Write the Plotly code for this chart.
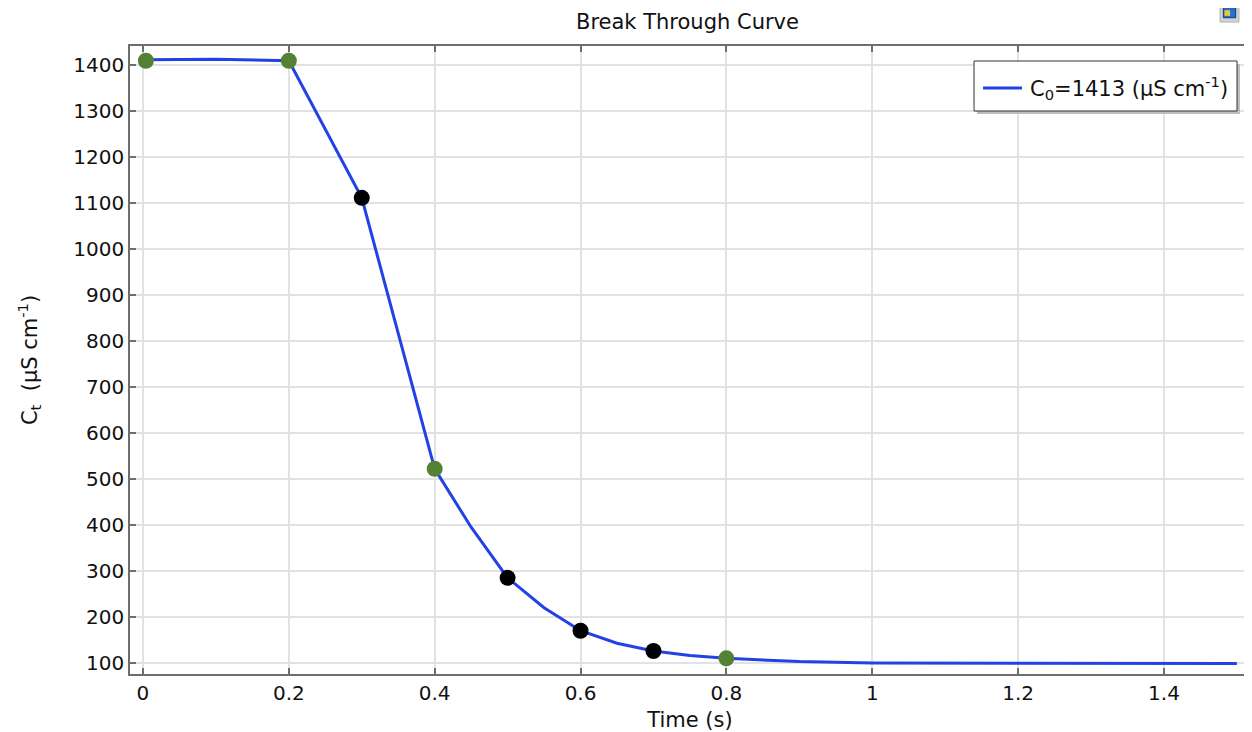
import plotly.graph_objects as go

# Curve data
line_time = [0.0, 0.1, 0.2, 0.3, 0.4, 0.45, 0.5, 0.55, 0.6, 0.65, 0.7, 0.75, 0.8, 0.9, 1.0, 1.2, 1.5]
line_conc = [1411, 1412, 1409, 1111, 522, 395, 285, 220, 170, 143, 126, 116, 110, 103, 100, 99, 99]

green_time = [0.004, 0.2, 0.4, 0.8]
green_conc = [1409, 1409, 522, 110]
black_time = [0.3, 0.5, 0.6, 0.7]
black_conc = [1111, 285, 170, 126]

x_ticks = [0, 0.2, 0.4, 0.6, 0.8, 1, 1.2, 1.4]
x_labels = ["0", "0.2", "0.4", "0.6", "0.8", "1", "1.2", "1.4"]
y_ticks = list(range(100, 1401, 100))

legend_label = "C<sub>0</sub>=1413 (µS cm<sup>-1</sup>)"
LINE_COLOR = "#2342e6"
FONT = "DejaVu Sans, Liberation Sans, sans-serif"
TXT = "#111111"

fig = go.Figure()
fig.add_trace(go.Scatter(
    x=line_time, y=line_conc, mode="lines",
    line=dict(color=LINE_COLOR, width=3),
    name=legend_label, showlegend=False,
))
fig.add_trace(go.Scatter(
    x=green_time, y=green_conc, mode="markers",
    marker=dict(color="#538234", size=16), showlegend=False,
))
fig.add_trace(go.Scatter(
    x=black_time, y=black_conc, mode="markers",
    marker=dict(color="#000000", size=16), showlegend=False,
))

axis_common = dict(
    showline=True, linecolor="#6e6e6e", linewidth=1.5, mirror="ticks",
    ticks="inside", ticklen=6, tickcolor="#6e6e6e", tickwidth=1.5,
    showgrid=True, gridcolor="#e2e2e2", gridwidth=2, zeroline=False,
    tickfont=dict(family=FONT, size=20, color=TXT), automargin=False,
)

# the page body has an 8px margin, so the figure is 16px smaller than the window
fig.update_layout(
    width=1244, height=724,
    paper_bgcolor="white", plot_bgcolor="white",
    margin=dict(l=122, r=2, t=38, b=58),
    title=dict(text="Break Through Curve", x=0.5462, xanchor="center", xref="container",
               y=0.9807, yanchor="middle", yref="container",
               font=dict(family=FONT, size=21, color=TXT)),
    xaxis=dict(range=[-0.0178, 1.518], tickvals=x_ticks, ticktext=x_labels,
               title=dict(text="Time (s)", font=dict(family=FONT, size=21, color=TXT)),
               **axis_common),
    yaxis=dict(range=[76, 1441], tickvals=y_ticks,
               title=dict(text="C<sub>t</sub>  (µS cm<sup>-1</sup>)", standoff=30,
                          font=dict(family=FONT, size=21, color=TXT)),
               **axis_common),
    showlegend=False,
    shapes=[
        # legend shadow
        dict(type="rect", xref="paper", yref="paper",
             x0=0.7563, x1=0.9911, y0=0.8917, y1=0.9713,
             fillcolor="#bdbdbd", line=dict(width=0), layer="above"),
        # legend box
        dict(type="rect", xref="paper", yref="paper",
             x0=0.7536, x1=0.9884, y0=0.8965, y1=0.9761,
             fillcolor="white", line=dict(color="#333333", width=1), layer="above"),
        # legend line sample
        dict(type="line", xref="paper", yref="paper",
             x0=0.7616, x1=0.7964, y0=0.9331, y1=0.9331,
             line=dict(color=LINE_COLOR, width=3), layer="above"),
        # corner icon
        dict(type="rect", xref="paper", yref="paper",
             x0=0.9732, x1=0.9902, y0=1.038, y1=1.068,
             fillcolor="#d0d0d0", line=dict(color="#b8b8b8", width=1), layer="above"),
        dict(type="rect", xref="paper", yref="paper",
             x0=0.9762, x1=0.9872, y0=1.045, y1=1.061,
             fillcolor="#2a6fd0", line=dict(color="#103a80", width=1), layer="above"),
        dict(type="rect", xref="paper", yref="paper",
             x0=0.9772, x1=0.9822, y0=1.048, y1=1.057,
             fillcolor="#d8d040", line=dict(width=0), layer="above"),
    ],
    annotations=[
        dict(text=legend_label, xref="paper", yref="paper", x=0.8018, y=0.9331,
             xanchor="left", yanchor="middle", showarrow=False,
             font=dict(family=FONT, size=21, color=TXT)),
    ],
)

fig.write_html("out.html")
